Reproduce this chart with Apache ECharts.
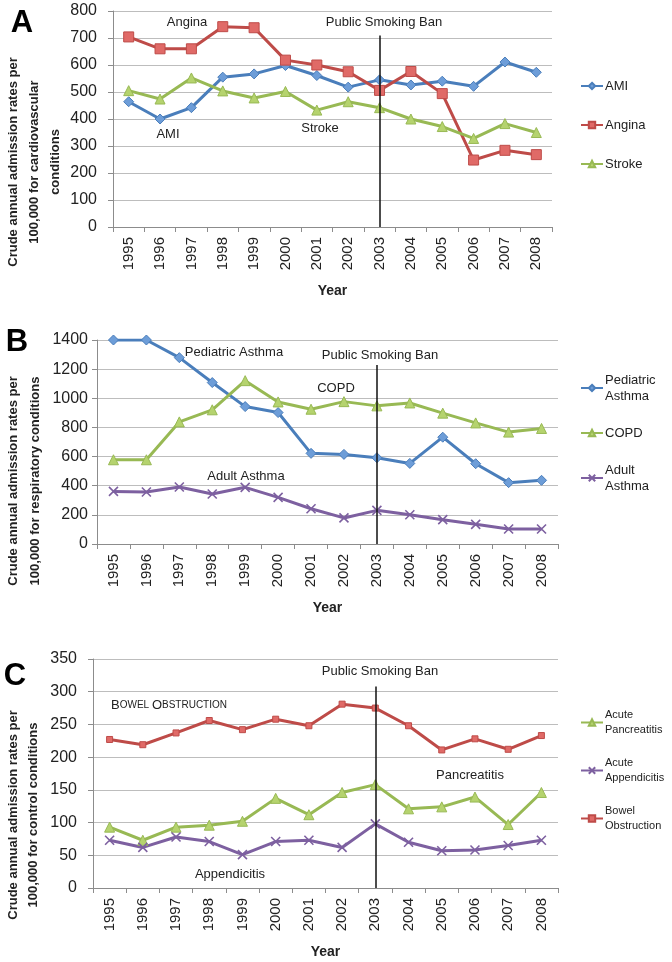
<!DOCTYPE html>
<html>
<head>
<meta charset="utf-8">
<script src="https://cdn.jsdelivr.net/npm/echarts@6/dist/echarts.min.js"></script>
<style>
html,body{margin:0;padding:0;background:#fff;}
#chart{width:672px;height:962px;}
</style>
</head>
<body>
<div id="chart"></div>
<script>
// ---------- data ----------
const years = ['1995','1996','1997','1998','1999','2000','2001','2002','2003','2004','2005','2006','2007','2008'];
const banYear = '2003';

// Panel A: cardiovascular
const amiRates    = [464,400,442,555,567,598,561,518,545,526,540,521,611,573];
const anginaRates = [704,660,660,742,738,618,600,575,506,576,494,248,284,268];
const strokeRates = [505,474,552,504,478,502,433,464,442,400,372,328,383,350];

// Panel B: respiratory
const pediatricAsthmaRates = [1400,1400,1279,1108,943,902,622,615,592,553,733,551,421,437];
const copdRates            = [578,578,838,921,1121,975,925,977,948,968,898,831,768,793];
const adultAsthmaRates     = [361,357,391,343,389,320,242,179,231,201,167,135,103,103];

// Panel C: control conditions
const pancreatitisRates     = [93,73,93,96,102,137,112,146,158,121,124,139,97,146];
const appendicitisRates     = [73,62,78,71,51,71,73,62,98,70,57,58,65,73];
const bowelObstructionRates = [227,219,237,256,242,258,248,281,275,248,211,228,212,233];

// axis scales (min, max, interval)
const axisA = [0, 800, 100];
const axisB = [0, 1400, 200];
const axisC = [0, 350, 50];

// top value of the smoking-ban line in each panel
const banTopA = 709, banTopB = 1229, banTopC = 308;

// ---------- style ----------
const FONT = 'Liberation Sans, Arial, sans-serif';
const TXT = '#222';
const BLUE = '#4A7EBB', RED = '#BE4B48', GREEN = '#98B954', PURPLE = '#7D60A0';
const X_SYMBOL = 'path://M0,0L10,10M10,0L0,10';

function xAxis(gi){
  return {
    type:'category', gridIndex:gi, data:years, boundaryGap:true,
    axisLine:{lineStyle:{color:'#8c8c8c', width:1}},
    axisTick:{show:true, length:5, lineStyle:{color:'#8c8c8c'}},
    axisLabel:{rotate:90, fontSize:15, color:TXT, fontFamily:FONT, margin:10},
    name:'Year', nameLocation:'middle', nameGap:57,
    nameTextStyle:{fontSize:14, fontWeight:'bold', color:TXT, fontFamily:FONT, verticalAlign:'top'}
  };
}
function yAxis(gi, sc, margin){
  return {
    type:'value', gridIndex:gi, min:sc[0], max:sc[1], interval:sc[2],
    axisLine:{show:true, lineStyle:{color:'#8c8c8c', width:1}},
    axisTick:{show:true, length:5, lineStyle:{color:'#8c8c8c'}},
    splitLine:{show:true, lineStyle:{color:'#bdbdbd', width:1}},
    axisLabel:{fontSize:16, color:TXT, fontFamily:FONT, margin:margin, formatter:v=>String(v)}
  };
}
function lineSeries(name, data, gi, color, fill, symbol, size, width, ban){
  const s = {
    name:name, type:'line', xAxisIndex:gi, yAxisIndex:gi, data:data,
    symbol:symbol, symbolSize:size, showSymbol:true,
    lineStyle:{color:color, width:width},
    itemStyle:{color:fill, borderColor:color, borderWidth:symbol===X_SYMBOL?1.6:1},
    emphasis:{disabled:true}, z:3
  };
  if (ban){
    s.markLine = {
      symbol:['none','none'], silent:true, animation:false,
      lineStyle:{color:'#111', width:1.5, type:'solid'},
      label:{show:false},
      data:[[{coord:[banYear, ban]}, {coord:[banYear, 0]}]]
    };
  }
  return s;
}
function legend(names, labels, top, fontSize, lh, gap){
  const map = {};
  names.forEach((n,i)=>map[n]=labels[i]);
  return {
    orient:'vertical', left:580, top:top, padding:0, itemGap:gap,
    itemWidth:22, itemHeight:8, selectedMode:false,
    textStyle:{fontSize:fontSize, color:TXT, fontFamily:FONT, lineHeight:lh},
    formatter:n=>map[n],
    data:names.map(n => map[n].indexOf('\n')>=0
      ? {name:n, textStyle:{padding:[lh,0,0,-3], backgroundColor:'rgba(255,255,255,0)'}}
      : {name:n, textStyle:{padding:[0,0,0,-3], backgroundColor:'rgba(255,255,255,0)'}})
  };
}
function note(text, x, y, extra){
  return Object.assign({type:'text', x:x, y:y, silent:true,
    style:{text:text, fontSize:13, fontFamily:FONT, fill:TXT, align:'center', verticalAlign:'middle'}}, extra||{});
}
function letter(t, x, y){
  return {type:'text', x:x, y:y, silent:true,
    style:{text:t, fontSize:31, fontWeight:'bold', fontFamily:FONT, fill:'#000', align:'center', verticalAlign:'middle'}};
}
function yTitle(t, x, y, lh){
  return {type:'text', x:x, y:y, rotation:Math.PI/2, silent:true,
    style:{text:t, fontSize:13, fontWeight:'bold', fontFamily:FONT, fill:TXT, align:'center', verticalAlign:'middle', lineHeight:lh}};
}

const chart = echarts.init(document.getElementById('chart'), null, {renderer:'canvas'});
chart.setOption({
  animation:false,
  backgroundColor:'#fff',
  grid:[
    {left:113, top:11, width:439, height:216},
    {left:97, top:340, width:461, height:204},
    {left:93, top:659, width:465, height:229}
  ],
  xAxis:[xAxis(0), xAxis(1), xAxis(2)],
  yAxis:[yAxis(0, axisA, 16), yAxis(1, axisB, 9), yAxis(2, axisC, 16)],
  legend:[
    legend(['AMI','Angina','Stroke'], ['AMI','Angina','Stroke'], 78, 13, 16, 23),
    legend(['Pediatric Asthma','COPD','Adult Asthma'], ['Pediatric\nAsthma','COPD','Adult\nAsthma'], 364, 13, 16, 13),
    legend(['Acute Pancreatitis','Acute Appendicitis','Bowel Obstruction'], ['Acute\nPancreatitis','Acute\nAppendicitis','Bowel\nObstruction'], 700, 11, 15, 3)
  ],
  series:[
    lineSeries('AMI', amiRates, 0, BLUE, '#6D9DD8', 'diamond', 10, 3, banTopA),
    lineSeries('Angina', anginaRates, 0, RED, '#E06A67', 'rect', 10, 3),
    lineSeries('Stroke', strokeRates, 0, GREEN, '#B5D36E', 'triangle', 10, 3),
    lineSeries('Pediatric Asthma', pediatricAsthmaRates, 1, BLUE, '#6D9DD8', 'diamond', 10, 3, banTopB),
    lineSeries('COPD', copdRates, 1, GREEN, '#B5D36E', 'triangle', 10, 3),
    lineSeries('Adult Asthma', adultAsthmaRates, 1, PURPLE, PURPLE, X_SYMBOL, 9, 3),
    lineSeries('Acute Pancreatitis', pancreatitisRates, 2, GREEN, '#B5D36E', 'triangle', 10, 3, banTopC),
    lineSeries('Acute Appendicitis', appendicitisRates, 2, PURPLE, PURPLE, X_SYMBOL, 9, 3),
    lineSeries('Bowel Obstruction', bowelObstructionRates, 2, RED, '#E06A67', 'rect', 6, 3)
  ],
  graphic:[
    letter('A', 22, 23), letter('B', 17, 342), letter('C', 15, 676),
    yTitle('Crude annual admission rates per\n100,000 for cardiovascular\nconditions', 34, 162, 21),
    yTitle('Crude annual admission rates per\n100,000 for respiratory conditions', 24, 481, 22),
    yTitle('Crude annual admission rates per\n100,000 for control conditions', 23, 815, 20),
    note('Angina', 187, 22), note('AMI', 168, 134), note('Stroke', 320, 128),
    note('Public Smoking Ban', 384, 22),
    note('Pediatric Asthma', 234, 352), note('Public Smoking Ban', 380, 355),
    note('COPD', 336, 388), note('Adult Asthma', 246, 476),
    note('Public Smoking Ban', 380, 671),
    {type:'text', x:169, y:705, silent:true,
      style:{text:'{a|B}{b|OWEL }{a|O}{b|BSTRUCTION}', fontFamily:FONT, fill:TXT, align:'center', verticalAlign:'middle',
        rich:{a:{fontSize:13, fontFamily:FONT, fill:TXT}, b:{fontSize:10, fontFamily:FONT, fill:TXT}}}},
    note('Appendicitis', 230, 874), note('Pancreatitis', 470, 775)
  ]
});
</script>
</body>
</html>
